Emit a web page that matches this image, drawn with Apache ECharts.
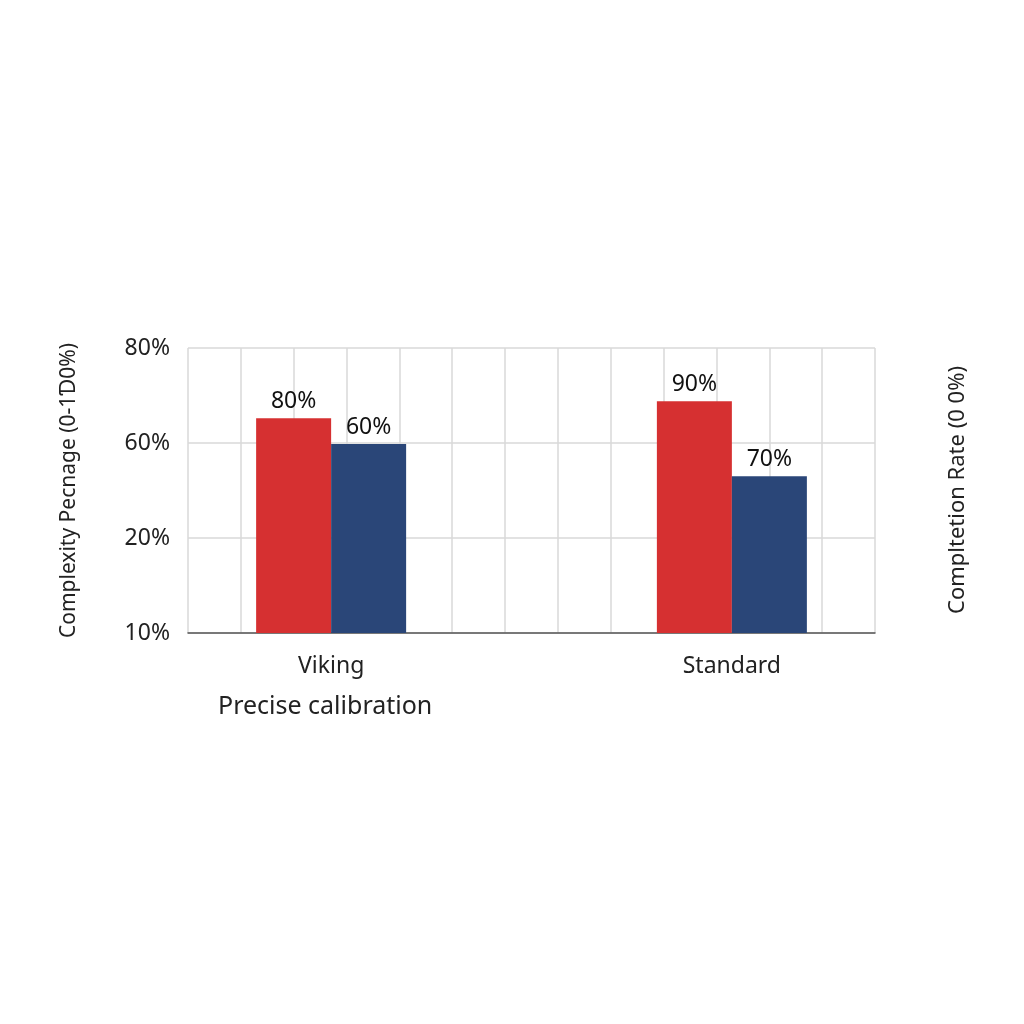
<!DOCTYPE html>
<html><head><meta charset="utf-8">
<script src="https://cdn.jsdelivr.net/npm/echarts@6/dist/echarts.min.js"></script>
<style>html,body{margin:0;background:#fff}#c{width:1024px;height:1024px}</style>
</head><body><div id="c"></div>
<script>
const categories = ['', '', 'Viking', '', '', '', '', '', '', 'Standard', '', ''];
const yTickLabels = ['10%', '20%', '60%', '80%'];
// bar heights in axis-step units (ticks evenly spaced but labelled unevenly)
const redValues  = [null, null, 2.26, null, null, null, null, null, null, 2.44, null, null];
const blueValues = [null, null, 1.99, null, null, null, null, null, null, 1.65, null, null];
const redLabels  = {2: '80%', 9: '90%'};
const blueLabels = {2: '60%', 9: '70%'};
const font = 'Noto Sans';
const chart = echarts.init(document.getElementById('c'));
chart.setOption({
  animation: false,
  textStyle: {fontFamily: font},
  grid: {left: 188, right: 149, top: 348, bottom: 391},
  xAxis: [
    {type: 'category', data: categories, boundaryGap: true,
     axisTick: {show: false}, axisLine: {lineStyle: {color: '#555', width: 1.5}},
     axisLabel: {interval: 0, color: '#222', fontSize: 23, margin: 22, fontFamily: font}},
    {type: 'value', min: 0, max: 13, interval: 1, position: 'top', show: true,
     axisLine: {show: false}, axisTick: {show: false}, axisLabel: {show: false},
     splitLine: {show: true, lineStyle: {color: '#d8d8d8', width: 1.5}}}
  ],
  yAxis: {type: 'value', min: 0, max: 3, interval: 1,
    axisLine: {show: false}, axisTick: {show: false},
    axisLabel: {formatter: v => yTickLabels[v], color: '#222', fontSize: 23, margin: 18, fontFamily: font},
    splitLine: {lineStyle: {color: '#d8d8d8', width: 1.5}},
    name: 'Complexity Pecnage (0-1Ɗ0%)', nameLocation: 'middle', nameGap: 108, nameRotate: 90,
    nameTextStyle: {fontSize: 21, color: '#222', fontFamily: font}},
  graphic: [
    {type: 'text', left: 218, top: 694, style: {text: 'Precise calibration', fontSize: 25, fill: '#222', fontFamily: font}},
    {type: 'text', x: 958, y: 490, rotation: Math.PI/2,
     style: {text: 'Compltetion Rate (0 0%)', fontSize: 22, fill: '#222', fontFamily: font, align: 'center', verticalAlign: 'middle'}}
  ],
  series: [
    {type: 'bar', data: redValues, barWidth: 75, barGap: '0%', itemStyle: {color: '#d63031'},
     label: {show: true, position: 'top', fontSize: 23, color: '#111', formatter: p => redLabels[p.dataIndex] || ''}},
    {type: 'bar', data: blueValues, barWidth: 75, barGap: '0%', itemStyle: {color: '#2a4678'},
     label: {show: true, position: 'top', fontSize: 23, color: '#111', formatter: p => blueLabels[p.dataIndex] || ''}}
  ]
});
</script></body></html>
